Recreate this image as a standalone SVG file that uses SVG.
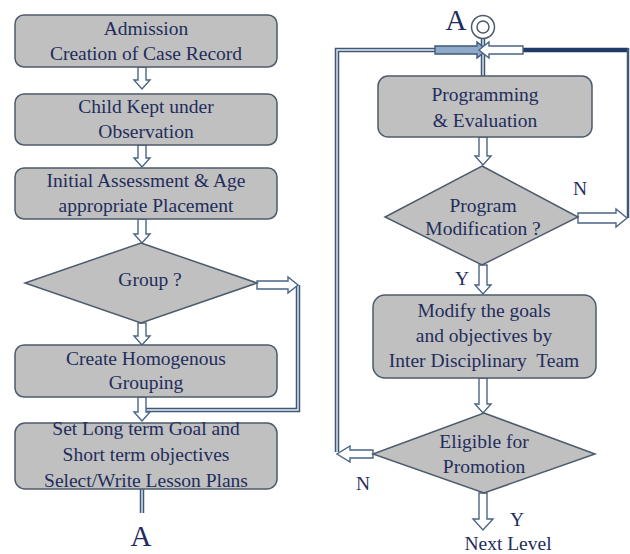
<svg xmlns="http://www.w3.org/2000/svg" width="630" height="554" viewBox="0 0 630 554">
<style>
.box{fill:#c0c0c0;stroke:#4d5b6b;stroke-width:1.5}
.t{font-family:"Liberation Serif","Times New Roman",serif;font-size:19.5px;fill:#1f2d5c;text-anchor:middle}
.big{font-size:29px}
.arr{fill:#ffffff;stroke:#4a6585;stroke-width:1.4;stroke-linejoin:miter}
.arrf{fill:#8fa9c8;stroke:#3f5878;stroke-width:1.4}
.dbl{fill:none;stroke:#3f5878;stroke-width:4.5}
.dbli{fill:none;stroke:#e4ecf4;stroke-width:1.4}
.thick{fill:none;stroke:#1f3a66;stroke-width:4.5}
.thin{fill:none;stroke:#3f5878;stroke-width:2.5}
</style>
<rect width="630" height="554" fill="#ffffff"/>
<g id="connectors">
  <path class="arr" d="M138 67V80H134L142 89L150 80H146V67Z"/>
  <path class="arr" d="M138 145V158H134L142 167L150 158H146V145Z"/>
  <path class="arr" d="M138 219V234H134L142 243L150 234H146V219Z"/>
  <path class="arr" d="M138 323V336H134L142 345L150 336H146V323Z"/>
  <path class="dbl" d="M298 285V410H146"/>
  <path class="dbli" d="M298 285V410H146"/>
  <path class="arr" d="M257 281H288V277L298 285L288 293V289H257Z"/>
  <path class="arr" d="M138 397V412H134L142 421L150 412H146V397Z"/>
  <path class="dbl" d="M142 489V513"/>
  <path class="dbli" d="M142 489V513"/>
  <path class="dbl" d="M483 39V76"/>
  <path class="dbli" d="M483 39V76"/>
  <path class="dbl" d="M337 452V50H436"/>
  <path class="dbli" d="M337 452V50H436"/>
  <path class="thick" d="M523 50H628"/>
  <path class="thin" d="M628 48V218"/>
  <path class="arrf" d="M435 46H477V42L487 50L477 58V54H435Z"/>
  <path class="arr" d="M523 46H489V42L479 50L489 58V54H523Z"/>
  <path class="arr" d="M479 137V156H475L483 165L491 156H487V137Z"/>
  <path class="arr" d="M479 265V285H475L483 294L491 285H487V265Z"/>
  <path class="arr" d="M479 378V404H475L483 413L491 404H487V378Z"/>
  <path class="arr" d="M479 493V519H473L483 530L493 519H487V493Z"/>
  <path class="arr" d="M578 213H616V209L627 218L616 227V223H578Z"/>
  <path class="arr" d="M373 450H350V446L337 454L350 462V458H373Z"/>
</g>
<g id="n-admission">
  <rect class="box" x="15" y="15" width="262" height="52" rx="9"/>
  <text class="t" x="146" y="35">Admission</text>
  <text class="t" x="146" y="60">Creation of Case Record</text>
</g>
<g id="n-observation">
  <rect class="box" x="15" y="94" width="262" height="51" rx="9"/>
  <text class="t" x="146" y="113">Child Kept under</text>
  <text class="t" x="146" y="138">Observation</text>
</g>
<g id="n-assessment">
  <rect class="box" x="15" y="168" width="262" height="51" rx="9"/>
  <text class="t" x="146" y="187">Initial Assessment &amp; Age</text>
  <text class="t" x="146" y="212">appropriate Placement</text>
</g>
<g id="n-group">
  <polygon class="box" points="141,243 257,283 141,323 25,283"/>
  <text class="t" x="150" y="286">Group ?</text>
</g>
<g id="n-homogenous">
  <rect class="box" x="15" y="345" width="262" height="52" rx="9"/>
  <text class="t" x="146" y="365">Create Homogenous</text>
  <text class="t" x="146" y="389">Grouping</text>
</g>
<g id="n-goals">
  <rect class="box" x="15" y="423" width="262" height="66" rx="10"/>
  <text class="t" x="146" y="435">Set Long term Goal and</text>
  <text class="t" x="146" y="461">Short term objectives</text>
  <text class="t" x="146" y="487">Select/Write Lesson Plans</text>
</g>
<g id="n-a-left">
  <text class="t big" x="141" y="546">A</text>
</g>
<g id="n-a-right">
  <text class="t big" x="456" y="30">A</text>
  <circle cx="483" cy="27" r="11.5" fill="#ffffff" stroke="#4d5b6b" stroke-width="1.5"/>
  <circle cx="483" cy="27" r="6" fill="#ffffff" stroke="#4d5b6b" stroke-width="1.5"/>
</g>
<g id="n-programming">
  <rect class="box" x="378" y="76" width="214" height="61" rx="10"/>
  <text class="t" x="485" y="101">Programming</text>
  <text class="t" x="485" y="127">&amp; Evaluation</text>
</g>
<g id="n-modification">
  <polygon class="box" points="482,166 578,217 482,265 385,217"/>
  <text class="t" x="483" y="212">Program</text>
  <text class="t" x="483" y="235">Modification ?</text>
  <text class="t" x="580" y="195">N</text>
  <text class="t" x="462" y="285">Y</text>
</g>
<g id="n-modify">
  <rect class="box" x="373" y="295" width="223" height="83" rx="12"/>
  <text class="t" x="484" y="317">Modify the goals</text>
  <text class="t" x="484" y="342">and objectives by</text>
  <text class="t" x="484" y="367">Inter Disciplinary&#160; Team</text>
</g>
<g id="n-promotion">
  <polygon class="box" points="484,413 595,454 484,493 373,454"/>
  <text class="t" x="484" y="448">Eligible for</text>
  <text class="t" x="484" y="473">Promotion</text>
  <text class="t" x="363" y="490">N</text>
  <text class="t" x="517" y="526">Y</text>
  <text class="t" x="508" y="550">Next Level</text>
</g>
</svg>
